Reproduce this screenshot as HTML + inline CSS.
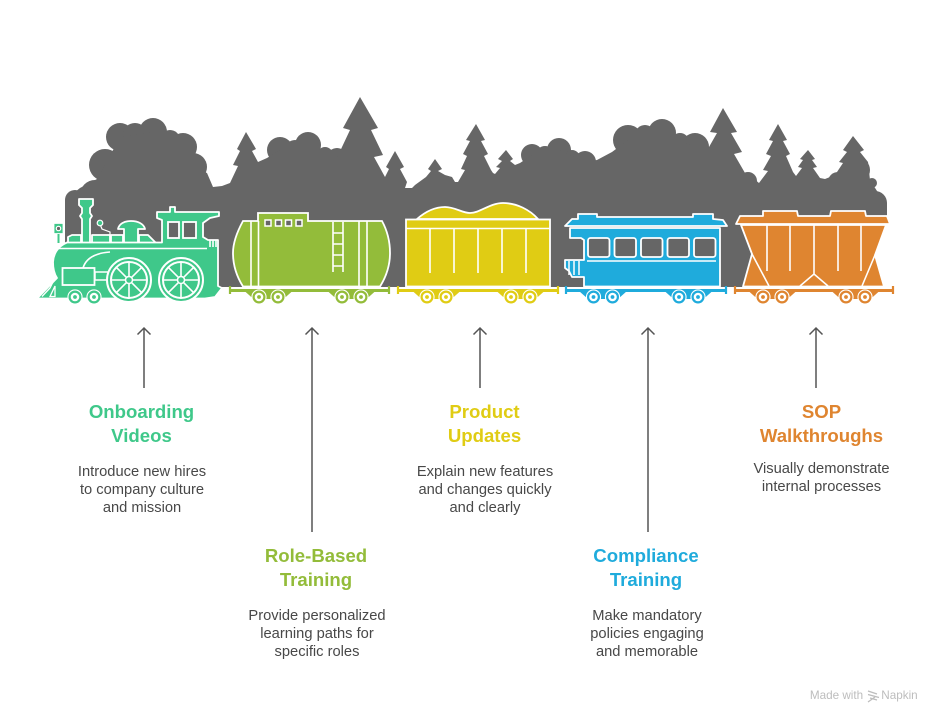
<!DOCTYPE html>
<html><head><meta charset="utf-8"><style>
html,body{margin:0;padding:0;background:#fff}
svg{display:block}
text{font-family:"Liberation Sans",sans-serif;text-anchor:middle}
.t{font-size:18.6px;font-weight:bold}
.d{font-size:14.7px;fill:#484848}
</style></head><body>
<svg width="942" height="723" viewBox="0 0 942 723" xmlns="http://www.w3.org/2000/svg">
<defs>
<g id="wheel"><circle r="7.6" fill="#fff"/><circle r="5.4" fill="none" stroke="currentColor" stroke-width="2.2"/><circle r="1.9" fill="currentColor"/></g>
<g id="truck"><polygon points="-24,-6 24,-6 15,2 -15,2" fill="currentColor"/><use href="#wheel" x="-9.500" y="0"/><use href="#wheel" x="9.500" y="0"/></g>
<g id="big"><circle r="22" fill="#3fc88a" stroke="#fff" stroke-width="2"/><circle r="18" fill="#3fc88a" stroke="#fff" stroke-width="2"/>
<path d="M0-18V18M-18 0H18M-12.700-12.700L12.700 12.700M-12.700 12.700L12.700-12.700" stroke="#fff" stroke-width="1.600"/><circle r="3.500" fill="#3fc88a" stroke="#fff" stroke-width="1.500"/></g>
</defs>

<!-- silhouette -->
<g fill="#666">
<circle cx="105" cy="165" r="16"/><circle cx="120" cy="137" r="14"/><circle cx="135" cy="135" r="12"/><circle cx="153" cy="132" r="14"/><circle cx="170" cy="140" r="10"/><circle cx="183" cy="147" r="14"/><circle cx="193" cy="167" r="14"/><circle cx="200" cy="183" r="10"/>
<circle cx="75" cy="200" r="10"/><circle cx="95" cy="195" r="15"/>
<circle cx="280" cy="150" r="13"/><circle cx="295" cy="150" r="10"/><circle cx="308" cy="145" r="13"/><circle cx="325" cy="155" r="8"/><circle cx="337" cy="158" r="10"/>
<circle cx="532" cy="155" r="11"/><circle cx="545" cy="155" r="9"/><circle cx="559" cy="150" r="12"/><circle cx="572" cy="158" r="8"/><circle cx="585" cy="162" r="11"/>
<circle cx="628" cy="140" r="15"/><circle cx="645" cy="135" r="10"/><circle cx="662" cy="133" r="14"/><circle cx="680" cy="142" r="9"/><circle cx="695" cy="147" r="14"/>
<circle cx="748" cy="181" r="9"/><circle cx="858" cy="170" r="12"/><circle cx="872" cy="183" r="5"/><circle cx="875" cy="203" r="12"/><circle cx="838" cy="182" r="10"/><circle cx="438" cy="185" r="10"/><circle cx="415" cy="196" r="8"/>
<polygon points="65,200 65,287 860,287 887,215 887,203 877,191 870,180 868,162 860,152 864,150 853,136 843,150 847,152 839,162 843,163 835,175 825,179 820,178 813,168 817,167 812,160 815,159 808,150 800,159 803,160 798,167 802,168 796,176 793,172 786,156 790,154 783,141 787,140 778,124 769,140 773,141 766,154 771,156 763,170 768,171 759,183 753,178 745,173 734,154 742,152 731,133 737,132 723,108 710,132 717,133 709,147 695,147 662,133 628,140 612,152 597,160 585,162 559,150 532,155 520,163 515,165 510,161 513,159 506,150 498,159 502,161 496,167 500,168 495,174 493,173 491,170 484,156 488,154 481,141 485,140 476,124 466,140 470,141 463,154 467,156 461,169 465,170 458,182 455,182 452,177 445,175 438,171 442,169 435,159 428,169 431,171 426,177 415,185 412,188 405,188 407,182 400,169 404,167 395,151 386,167 389,169 385,177 374,157 383,155 371,130 378,128 360,97 343,128 350,130 342,147 337,158 308,145 280,150 267,158 258,162 252,151 256,149 246,132 237,149 240,151 233,165 238,166 230,183 222,186 213,187 207,173 193,167 183,147 153,132 120,137 105,165 97,179 80,188"/>
</g>

<!-- locomotive -->
<g fill="#3fc88a" stroke="#fff" stroke-width="1.800" stroke-linejoin="round">
<path d="M79,199H93V205L90,208V213L92,216L90,219V243H82V219L80,216L82,213V208L79,205Z"/>
<rect x="53.500" y="223" width="10" height="11"/>
<path d="M68,243V237L72,235H81V243ZM92,235H110V243H92ZM111,235H123V243H111ZM139,235H148L156,243H139Z"/>
<path d="M124,243V229H118C119,224 124,221 131,221C138,221 144,224 145,229H138V243Z"/>
</g>
<circle cx="58.500" cy="228.500" r="2.200" fill="#666" stroke="#fff" stroke-width="1.200"/>
<path d="M58.500,234V243" stroke="#3fc88a" stroke-width="2"/>
<path d="M100,224L102,229L110,232V236" stroke="#fff" stroke-width="1.200" fill="none"/>
<circle cx="100" cy="223" r="2.800" fill="#3fc88a" stroke="#fff" stroke-width="1.200"/>
<path d="M37,298.500L57,278Q53,272 53,262Q54,248 67,242.500H162V220L157,218V212H170V207H175V212H219V216L210,218L203,223V237L208,240H218V286L222,288L215,297L205,298.500Z" fill="#3fc88a" stroke="#fff" stroke-width="1.800" stroke-linejoin="round"/>
<rect x="168" y="222" width="11" height="16" fill="#666" stroke="#fff" stroke-width="1.800"/>
<rect x="183" y="222" width="13" height="16" fill="#666" stroke="#fff" stroke-width="1.800"/>
<path d="M55,248.500H207M210,240V247M213,240V247M216,240V247" stroke="#fff" stroke-width="1.600" fill="none"/>
<path d="M83,268C86,258 96,253 110,252" stroke="#fff" stroke-width="1.600" fill="none"/>
<rect x="62.500" y="268" width="32" height="17" fill="#3fc88a" stroke="#fff" stroke-width="1.800"/>
<rect x="95" y="272" width="13" height="8" fill="#3fc88a" stroke="#fff" stroke-width="1.500"/>
<path d="M42,296.500L50,288L54,280" stroke="#fff" stroke-width="1.300" fill="none"/>
<path d="M50,296.500L55,286V296.500Z" fill="#3fc88a" stroke="#fff" stroke-width="1.300"/>
<use href="#big" x="129" y="280"/><use href="#big" x="181" y="280"/>
<g color="#3fc88a"><use href="#wheel" x="75" y="297"/><use href="#wheel" x="94" y="297"/></g>

<!-- tank -->
<path d="M243,221H258V213H308V221H382C388,232 390,243 390,253C390,266 386,277 380,286.500H243C237,277 233,266 233,253C233,243 237,232 243,221Z" fill="#93bc3a" stroke="#fff" stroke-width="1.800"/>
<g fill="#666" stroke="#fff" stroke-width="1.500"><rect x="265" y="220" width="6" height="6"/><rect x="275.500" y="220" width="6" height="6"/><rect x="285.500" y="220" width="6" height="6"/><rect x="296" y="220" width="6" height="6"/></g>
<path d="M251,221V286M258.500,221V286M359,221V286M367,221V286M333,222V272M343,222V272M333,233H343M333,244H343M333,255H343M333,266H343" stroke="#fff" stroke-width="1.600" fill="none"/>
<g color="#93bc3a"><path d="M230,286V294M389,286V294" stroke="#93bc3a" stroke-width="2.200"/><rect x="230" y="289" width="159" height="3" fill="#93bc3a"/><use href="#truck" x="268.500" y="297"/><use href="#truck" x="351.500" y="297"/></g>

<!-- coal -->
<path d="M417,219C425,212 435,207 445,207C455,207 462,213 470,213C480,213 490,203 503,203C517,203 530,210 538,219Z" fill="#e0cc14" stroke="#fff" stroke-width="1.800"/>
<rect x="406" y="219.500" width="144" height="67" fill="#e0cc14" stroke="#fff" stroke-width="1.800"/>
<path d="M406,228.500H550M430,228V273M454,228V273M478,228V273M502,228V273M526,228V273" stroke="#fff" stroke-width="1.600" fill="none"/>
<g color="#e0cc14"><path d="M398,286V294M558,286V294" stroke="#e0cc14" stroke-width="2.200"/><rect x="398" y="289" width="160" height="3" fill="#e0cc14"/><use href="#truck" x="436.500" y="297"/><use href="#truck" x="520.500" y="297"/></g>

<!-- passenger -->
<path d="M570,228H720V286.500H584V277H572L569,271L565,268V260H584V240L581,238H570Z" fill="#1fabdc" stroke="#fff" stroke-width="1.800" stroke-linejoin="round"/>
<path d="M565,226L572,219H578V214H597V217H693V214H713V219L723,220L727,226Z" fill="#1fabdc" stroke="#fff" stroke-width="1.800" stroke-linejoin="round"/>
<g fill="#666" stroke="#fff" stroke-width="1.800"><rect x="588" y="238" width="21.500" height="19" rx="2.500"/><rect x="614.500" y="238" width="21.500" height="19" rx="2.500"/><rect x="641" y="238" width="21.500" height="19" rx="2.500"/><rect x="667.500" y="238" width="21.500" height="19" rx="2.500"/><rect x="694" y="238" width="21.500" height="19" rx="2.500"/></g>
<path d="M587,261H716M569,261V275M574,261V275M579,261V275" stroke="#fff" stroke-width="1.500" fill="none"/>
<g color="#1fabdc"><path d="M566,286V294M726,286V294" stroke="#1fabdc" stroke-width="2.200"/><rect x="566" y="289" width="160" height="3" fill="#1fabdc"/><use href="#truck" x="603" y="297"/><use href="#truck" x="688.500" y="297"/></g>

<!-- hopper -->
<path d="M741,225H886L875,255L884,286.500H743L752,254Z" fill="#df8530" stroke="#fff" stroke-width="1.800" stroke-linejoin="round"/>
<path d="M736,224L740,216H763V211H797L798,216H830L831,211H865L866,216H887L890,224Z" fill="#df8530" stroke="#fff" stroke-width="1.800" stroke-linejoin="round"/>
<path d="M752,254L769,286M875,255L862,286M767,225V271M790,225V271M814,225V275M838,225V271M861,225V271M800,286L814,274L828,286" stroke="#fff" stroke-width="1.600" fill="none"/>
<g color="#df8530"><path d="M735,286V294M893,286V294" stroke="#df8530" stroke-width="2.200"/><rect x="735" y="289" width="158" height="3" fill="#df8530"/><use href="#truck" x="772.500" y="297"/><use href="#truck" x="855.500" y="297"/></g>

<!-- arrows -->
<g fill="none" stroke="#555" stroke-width="1.500">
<path d="M144,388V328M137.500,334.500L144,328L150.500,334.500"/>
<path d="M312,532V328M305.500,334.500L312,328L318.500,334.500"/>
<path d="M480,388V328M473.500,334.500L480,328L486.500,334.500"/>
<path d="M648,532V328M641.500,334.500L648,328L654.500,334.500"/>
<path d="M816,388V328M809.500,334.500L816,328L822.500,334.500"/>
</g>

<!-- text -->
<g class="t" fill="#3fc88a"><text x="141.500" y="418">Onboarding</text><text x="141.500" y="442">Videos</text></g>
<g class="d"><text x="142" y="476">Introduce new hires</text><text x="142" y="494">to company culture</text><text x="142" y="512">and mission</text></g>
<g class="t" fill="#93bc3a"><text x="316" y="562">Role-Based</text><text x="316" y="586">Training</text></g>
<g class="d"><text x="317" y="620">Provide personalized</text><text x="317" y="638">learning paths for</text><text x="317" y="656">specific roles</text></g>
<g class="t" fill="#e0cc14"><text x="484.500" y="418">Product</text><text x="484.500" y="442">Updates</text></g>
<g class="d"><text x="485" y="476">Explain new features</text><text x="485" y="494">and changes quickly</text><text x="485" y="512">and clearly</text></g>
<g class="t" fill="#1fabdc"><text x="646" y="562">Compliance</text><text x="646" y="586">Training</text></g>
<g class="d"><text x="647" y="620">Make mandatory</text><text x="647" y="638">policies engaging</text><text x="647" y="656">and memorable</text></g>
<g class="t" fill="#df8530"><text x="821.500" y="418">SOP</text><text x="821.500" y="442">Walkthroughs</text></g>
<g class="d"><text x="821.500" y="473">Visually demonstrate</text><text x="821.500" y="491">internal processes</text></g>

<!-- footer -->
<text x="836.500" y="699" style="font-size:11.700px" fill="#bdbdbd">Made with</text>
<path d="M868,691L877,694M868,694.500L879,697.500M870,698L877,700M868,702L875,697" stroke="#bdbdbd" stroke-width="1.300" fill="none"/>
<text x="899.500" y="699" style="font-size:11.700px" fill="#bdbdbd">Napkin</text>
</svg>
</body></html>
